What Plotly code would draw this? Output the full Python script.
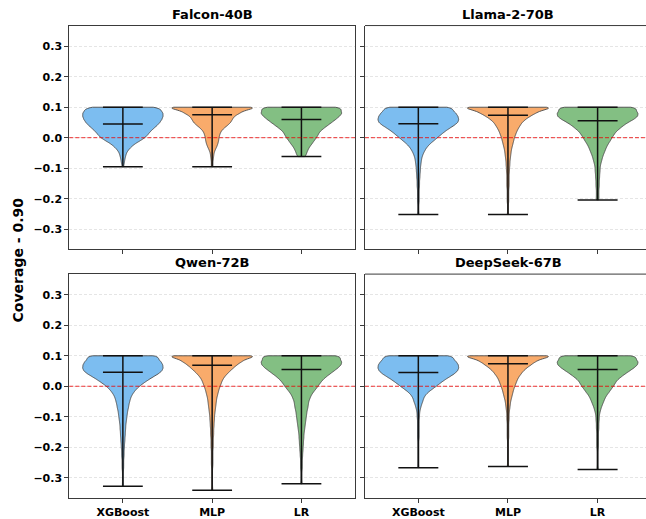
import numpy as np
import plotly.graph_objects as go

models = ["Falcon-40B", "Llama-2-70B", "Qwen-72B", "DeepSeek-67B"]
methods = ["XGBoost", "MLP", "LR"]
colors = ["#7cbdf0", "#f9ab6b", "#83bf83"]

y_ticks = [-0.3, -0.2, -0.1, 0.0, 0.1, 0.2, 0.3]
y_tick_labels = ["\u22120.3", "\u22120.2", "\u22120.1", "0.0", "0.1", "0.2", "0.3"]

# mean (coverage - 0.90), per model: [XGBoost, MLP, LR]
means_falcon = [0.045, 0.075, 0.060]
means_llama = [0.046, 0.074, 0.056]
means_qwen = [0.046, 0.069, 0.055]
means_deepseek = [0.045, 0.074, 0.055]

# minimum (coverage - 0.90), per model: [XGBoost, MLP, LR]; maximum is 0.10 everywhere
mins_falcon = [-0.095, -0.095, -0.062]
mins_llama = [-0.252, -0.252, -0.204]
mins_qwen = [-0.328, -0.341, -0.320]
mins_deepseek = [-0.267, -0.263, -0.273]

# estimated histogram of (coverage - 0.90): bin levels (0.10 down in steps of 0.01) and
# estimated counts per level, read from each violin's width
levels = [0.10, 0.09, 0.08, 0.07, 0.06, 0.05, 0.04, 0.03, 0.02, 0.01, 0.00,
          -0.01, -0.02, -0.03, -0.04, -0.05, -0.06, -0.07, -0.08, -0.09, -0.10,
          -0.11, -0.12, -0.13, -0.14, -0.15, -0.16, -0.17, -0.18, -0.19, -0.20,
          -0.21, -0.22, -0.23, -0.24, -0.25, -0.26, -0.27, -0.28, -0.29, -0.30,
          -0.31, -0.32, -0.33, -0.34]

falcon_xgb = [89, 95, 100, 100, 97, 92, 85, 76, 68, 62, 55, 43, 30, 21, 14, 9, 7, 5, 4, 2]
falcon_mlp = [130, 85, 72, 58, 53, 49, 40, 30, 23, 20, 18, 17, 15, 12, 8, 5, 4, 3, 2, 2]
falcon_lr = [100, 96, 100, 93, 84, 74, 64, 54, 45, 41, 37, 31, 26, 20, 16, 13, 10]

llama_xgb = [84, 85, 93, 98, 100, 98, 88, 76, 65, 56, 47, 38, 29, 22, 17, 13, 10, 8, 7, 6, 5,
             5, 4, 4, 3, 3, 3, 2, 2, 2, 2, 2, 1, 1, 1, 1]
llama_mlp = [129, 88, 72, 58, 46, 37, 32, 27, 23, 20, 17, 15, 13, 11, 9, 8, 7, 6, 5, 5, 4,
             4, 3, 3, 3, 3, 3, 2, 2, 2, 2, 2, 1, 1, 1, 1]
llama_lr = [97, 93, 99, 98, 88, 74, 63, 54, 45, 40, 35, 31, 26, 22, 19, 16, 13, 11, 9, 7, 6,
            6, 5, 5, 4, 4, 4, 3, 3, 3, 3]

qwen_xgb = [90, 87, 95, 99, 100, 97, 87, 74, 62, 51, 41, 33, 27, 22, 19, 17, 15, 14, 12, 11, 10,
            9, 8, 7, 7, 6, 6, 5, 5, 4, 4, 3, 3, 3, 2, 2, 2, 2, 1, 1, 1, 1, 1]
qwen_mlp = [128, 89, 77, 65, 56, 47, 39, 32, 27, 24, 21, 18, 16, 14, 12, 11, 10, 9, 8, 7, 6,
            6, 5, 5, 4, 4, 4, 3, 3, 3, 3, 2, 2, 2, 2, 2, 2, 1, 1, 1, 1, 1, 1, 1, 1]
qwen_lr = [100, 94, 100, 98, 90, 80, 70, 60, 52, 46, 41, 35, 29, 24, 21, 18, 17, 16, 14, 13, 12,
           11, 10, 9, 8, 7, 6, 6, 5, 5, 4, 4, 3, 3, 2, 2, 2, 2, 1, 1, 1, 1, 1]

deepseek_xgb = [87, 86, 94, 99, 100, 97, 88, 76, 64, 54, 44, 34, 24, 17, 13, 11, 8, 6, 4, 3, 3,
                2, 2, 2, 2, 2, 2, 2, 1, 1, 1, 1, 1, 1, 1, 1, 1]
deepseek_mlp = [129, 86, 71, 60, 49, 40, 34, 28, 24, 21, 18, 15, 13, 11, 9, 7, 6, 5, 4, 3, 3,
                3, 2, 2, 2, 2, 2, 2, 1, 1, 1, 1, 1, 1, 1, 1, 1]
deepseek_lr = [97, 93, 100, 98, 89, 78, 67, 57, 48, 43, 39, 33, 28, 22, 18, 15, 12, 9, 7, 5, 4,
               4, 3, 3, 3, 2, 2, 2, 2, 2, 2, 1, 1, 1, 1, 1, 1, 1]

counts = [
    [falcon_xgb, falcon_mlp, falcon_lr],
    [llama_xgb, llama_mlp, llama_lr],
    [qwen_xgb, qwen_mlp, qwen_lr],
    [deepseek_xgb, deepseek_mlp, deepseek_lr],
]
means = [means_falcon, means_llama, means_qwen, means_deepseek]
mins = [mins_falcon, mins_llama, mins_qwen, mins_deepseek]

W, H = 646, 519
FONT = "DejaVu Sans"
AX = "#3a3a3a"

# panel pixel boxes (left, right, top, bottom)
panels = [(69.3, 355.0, 25.7, 250.7), (365.0, 646.0, 25.7, 250.7),
          (69.3, 355.0, 275.7, 500.7), (365.0, 646.0, 275.7, 500.7)]
x_ranges = [[0.4, 3.6], [0.405, 3.54], [0.4, 3.6], [0.405, 3.54]]
y_range = [-0.366, 0.368]

fig = go.Figure()
cap = 0.223

for p in range(4):
    xa = "x" if p == 0 else f"x{p+1}"
    ya = "y" if p == 0 else f"y{p+1}"
    for i, m in enumerate(methods):
        pos = i + 1
        c = counts[p][i]
        vals = np.concatenate([np.repeat(levels[:len(c)], c), [mins[p][i]]])
        fig.add_trace(go.Violin(
            x0=pos, y=vals, xaxis=xa, yaxis=ya, width=0.9, spanmode="hard", bandwidth=0.006,
            points=False, fillcolor=colors[i], line=dict(color="#4a4a4a", width=0.9),
            opacity=1, showlegend=False, hoverinfo="skip", name=m,
        ))
        lo, hi = float(vals.min()), float(vals.max())
        line = dict(color="#111111", width=1.5)
        fig.add_trace(go.Scatter(x=[pos, pos], y=[lo, hi], mode="lines", line=line,
                                 xaxis=xa, yaxis=ya, showlegend=False, hoverinfo="skip"))
        for yv in (lo, hi, means[p][i]):
            fig.add_trace(go.Scatter(x=[pos - cap, pos + cap], y=[yv, yv], mode="lines", line=line,
                                     xaxis=xa, yaxis=ya, showlegend=False, hoverinfo="skip"))

layout = dict(
    width=W, height=H, margin=dict(l=0, r=0, t=0, b=0),
    paper_bgcolor="white", plot_bgcolor="white", violinmode="overlay",
    font=dict(family=FONT, color="black"),
)
shapes = []
annotations = []
for p in range(4):
    l, r, t, b = panels[p]
    sfx = "" if p == 0 else str(p + 1)
    left_col = p in (0, 2)
    bottom_row = p in (2, 3)
    layout["xaxis" + sfx] = dict(
        domain=[l / W, r / W], range=x_ranges[p], anchor="y" + sfx,
        tickvals=[1, 2, 3], ticktext=methods, showticklabels=bottom_row,
        ticks="outside", ticklen=4, tickcolor=AX, tickwidth=1,
        showline=True, linecolor=AX, linewidth=1, mirror=left_col,
        showgrid=False, zeroline=False,
        tickfont=dict(family=FONT, size=11, weight="bold", color="black"),
    )
    layout["yaxis" + sfx] = dict(
        domain=[1 - b / H, 1 - t / H], range=y_range, anchor="x" + sfx,
        tickvals=y_ticks, ticktext=y_tick_labels, showticklabels=left_col,
        ticks="outside", ticklen=4, tickcolor=AX, tickwidth=1,
        showline=True, linecolor=AX, linewidth=1, mirror=left_col,
        showgrid=True, gridcolor="rgba(0,0,0,0.10)", griddash="3px,2px", gridwidth=0.8,
        zeroline=False,
        tickfont=dict(family=FONT, size=11, weight="bold", color="black"),
    )
    xa = "x" if p == 0 else f"x{p+1}"
    ya = "y" if p == 0 else f"y{p+1}"
    shapes.append(dict(type="line", xref=f"{xa} domain", yref=ya, x0=0, x1=1, y0=0, y1=0,
                       line=dict(color="rgba(235,0,0,0.8)", width=1, dash="4px,2px"), layer="above"))
    if not left_col:
        # top border for right panels (their right border lies outside the picture)
        shapes.append(dict(type="line", xref=f"{xa} domain", yref=f"{ya} domain", x0=0, x1=1, y0=1, y1=1,
                           line=dict(color=AX, width=1)))
    annotations.append(dict(text=f"<b>{models[p]}</b>", x=(l + r) / 2 / W if left_col else (365 + 651) / 2 / W,
                            y=1 - t / H, xref="paper", yref="paper", xanchor="center", yanchor="bottom",
                            yshift=2, showarrow=False, font=dict(family=FONT, size=13, color="black")))

annotations.append(dict(text="<b>Coverage - 0.90</b>", x=18 / W, y=1 - 262 / H, xref="paper", yref="paper",
                        textangle=-90, showarrow=False, xanchor="center", yanchor="middle",
                        font=dict(family=FONT, size=14, color="black")))
layout["shapes"] = shapes
layout["annotations"] = annotations
fig.update_layout(**layout)
fig.write_html("out.html")
